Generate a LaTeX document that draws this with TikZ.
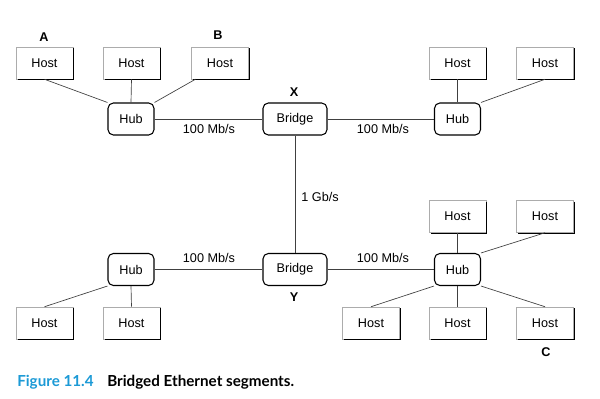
\documentclass[tikz,border=0pt]{standalone}
\usepackage{fontspec}
\setmainfont{Liberation Sans}
\newfontfamily\capfont{Lato}
\definecolor{figblue}{HTML}{1C9AD6}
\newcommand\boxshade[1]{\draw[black, line width=0.9pt] ([xshift=0.45pt,yshift=-1.2pt]#1.north east) -- ([xshift=0.45pt,yshift=-0.45pt]#1.south east) -- ([xshift=1.2pt,yshift=-0.45pt]#1.south west);}
\begin{document}
\begin{tikzpicture}[x=0.75pt,y=-0.75pt,
  font=\fontsize{9.5}{11}\selectfont,
  hostbox/.style={draw=gray!65, line width=0.4pt, fill=white, minimum width=42.5pt, minimum height=24pt, inner sep=0pt},
  hubbox/.style={draw=black, line width=0.8pt, fill=white, rounded corners=4pt, minimum width=34.5pt, minimum height=24pt, inner sep=0pt},
  bridgebox/.style={hubbox, minimum width=48pt},
  link/.style={draw=black!75, line width=0.5pt},
  lbl/.style={inner sep=0pt},
  tag/.style={inner sep=0pt, font=\fontsize{9.5}{11}\selectfont\bfseries}]
\path[use as bounding box, fill=white] (0,0) rectangle (600,399);
% nodes
\node[hostbox] (hA) at (44.5,63) {Host};
\node[hostbox] (hT2) at (131.5,63) {Host};
\node[hostbox] (hB) at (220,63) {Host};
\node[hubbox] (hub1) at (131,119) {Hub};
\node[bridgebox] (brX) at (295,119) {Bridge};
\node[hubbox] (hub2) at (457.5,119) {Hub};
\node[hostbox] (hT4) at (457.5,63) {Host};
\node[hostbox] (hT5) at (545,63) {Host};
\node[hubbox] (hub3) at (131,269.5) {Hub};
\node[bridgebox] (brY) at (295,269.5) {Bridge};
\node[hubbox] (hub4) at (457.5,269.5) {Hub};
\node[hostbox] (hR1) at (457.5,216.5) {Host};
\node[hostbox] (hR2) at (545,216.5) {Host};
\node[hostbox] (hL1) at (44.5,323) {Host};
\node[hostbox] (hL2) at (131.5,323) {Host};
\node[hostbox] (hR3) at (371,323) {Host};
\node[hostbox] (hR4) at (457.5,323) {Host};
\node[hostbox] (hR5) at (545,323) {Host};
\foreach \n in {hA,hT2,hB,hT4,hT5,hR1,hR2,hL1,hL2,hR3,hR4,hR5}{\boxshade{\n}}
% connectors
\draw[link] (hA.south) -- (hub1.north west);
\draw[link] (hT2.south) -- (hub1.north);
\draw[link] ([xshift=3pt]hB.south west) -- (hub1.north east);
\draw[link] (hub1.east) -- (brX.west);
\draw[link] (brX.east) -- (hub2.west);
\draw[link] (hT4.south) -- (hub2.north);
\draw[link] (hT5.south) -- (hub2.north east);
\draw[link] (brX.south) -- (brY.north);
\draw[link] (hub3.south west) -- (hL1.north);
\draw[link] (hub3.south) -- (hL2.north);
\draw[link] (hub3.east) -- (brY.west);
\draw[link] (brY.east) -- (hub4.west);
\draw[link] (hub4.north) -- (hR1.south);
\draw[link] (hub4.north east) -- (hR2.south);
\draw[link] (hub4.south west) -- (hR3.north);
\draw[link] (hub4.south) -- (hR4.north);
\draw[link] (hub4.south east) -- (hR5.north);
% labels
\node[lbl] (l1) at (209,129) {100 Mb/s};
\node[lbl] (l2) at (383,129) {100 Mb/s};
\node[lbl] (l3) at (209,258) {100 Mb/s};
\node[lbl] (l4) at (383,258) {100 Mb/s};
\node[lbl] (l5) at (320,197) {1 Gb/s};
\node[tag] (tA) at (44,37) {A};
\node[tag] (tB) at (218,35) {B};
\node[tag] (tX) at (294,92) {X};
\node[tag] (tY) at (294,297) {Y};
\node[tag] (tC) at (546,352) {C};
% caption
\node[anchor=base west, inner sep=0pt, font=\capfont\fontsize{11.4}{13}\selectfont\bfseries] (cap) at (17,386)
  {\textcolor{figblue}{Figure 11.4}\hspace{0.9em}Bridged Ethernet segments.};
\end{tikzpicture}
\end{document}
